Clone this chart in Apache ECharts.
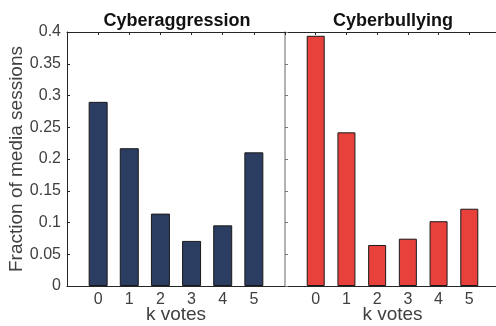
<!DOCTYPE html>
<html><head><meta charset="utf-8">
<script src="https://cdn.jsdelivr.net/npm/echarts@6/dist/echarts.min.js"></script>
<style>html,body{margin:0;padding:0;background:#fff}#c{width:496px;height:326px}</style>
</head><body><div id="c"></div>
<script>
const kVotes = [0, 1, 2, 3, 4, 5];
const aggression = [0.290, 0.217, 0.114, 0.071, 0.0955, 0.2105];
const bullying = [0.394, 0.242, 0.0646, 0.0745, 0.102, 0.1217];
const yTicks = [0, 0.05, 0.1, 0.15, 0.2, 0.25, 0.3, 0.35, 0.4];
const titles = ['Cyberaggression', 'Cyberbullying'];

const font = 'Liberation Sans, Arial, Helvetica, sans-serif';
const chart = echarts.init(document.getElementById('c'), null, {renderer: 'canvas'});
const labelColor = '#404040';
const dark = '#262626';

function xAxes(gi) {
  return [
    {gridIndex: gi, type: 'value', min: -1, max: 6, interval: 1, position: 'bottom',
     axisLine: {show: true, onZero: false, lineStyle: {color: dark, width: 1}},
     axisTick: {show: false},
     axisLabel: {fontFamily: font, fontSize: 16, color: labelColor, margin: 6,
       formatter: v => (v >= 0 && v <= 5) ? String(v) : ''},
     splitLine: {show: false},
     name: 'k votes', nameLocation: 'middle', nameGap: 19, nameMoveOverlap: false,
     nameTextStyle: {fontFamily: font, fontSize: 19, color: labelColor, verticalAlign: 'top'}},
    {gridIndex: gi, type: 'value', min: -1, max: 6, interval: 1, position: 'top',
     axisLine: {show: true, onZero: false, lineStyle: {color: dark, width: 1}},
     axisTick: {show: true, inside: true, length: 3, lineStyle: {color: dark}},
     axisLabel: {show: false}, splitLine: {show: false}}
  ];
}

const option = {
  animation: false,
  title: [
    {text: titles[0], left: 172, top: 7, textAlign: 'center',
     textStyle: {fontFamily: font, fontSize: 18, fontWeight: 'bold', color: '#111'}},
    {text: titles[1], left: 388, top: 7, textAlign: 'center',
     textStyle: {fontFamily: font, fontSize: 18, fontWeight: 'bold', color: '#111'}}
  ],
  grid: [
    {left: 67, top: 32, width: 218, height: 254, containLabel: false, outerBoundsMode: 'none'},
    {left: 285, top: 32, width: 215, height: 254, containLabel: false, outerBoundsMode: 'none'}
  ],
  xAxis: [...xAxes(0), ...xAxes(1)],
  yAxis: [
    {gridIndex: 0, type: 'value', min: 0, max: 0.4, interval: 0.05, position: 'left',
     axisLine: {show: true, onZero: false, lineStyle: {color: dark, width: 1}},
     axisTick: {show: true, inside: true, length: 3, lineStyle: {color: dark}},
     axisLabel: {fontFamily: font, fontSize: 16, color: labelColor, margin: 6,
       formatter: v => { const t = yTicks.find(x => Math.abs(x - v) < 1e-9); return t === undefined ? '' : String(t); }},
     splitLine: {show: false},
     name: 'Fraction of media sessions', nameLocation: 'middle', nameGap: 41, nameMoveOverlap: false,
     nameTextStyle: {fontFamily: font, fontSize: 19, color: labelColor}},
    {gridIndex: 1, type: 'value', min: 0, max: 0.4, interval: 0.05, position: 'left',
     axisLine: {show: true, onZero: false, lineStyle: {color: '#9a9a9a', width: 1.5}},
     axisTick: {show: true, inside: true, length: 3, lineStyle: {color: '#777'}},
     axisLabel: {show: false}, splitLine: {show: false}}
  ],
  series: [
    {type: 'bar', xAxisIndex: 0, yAxisIndex: 0, barWidth: 19,
     data: kVotes.map((k, i) => [k, aggression[i]]),
     itemStyle: {color: '#2c3d62', borderColor: '#1a1a1a', borderWidth: 1}},
    {type: 'bar', xAxisIndex: 2, yAxisIndex: 1, barWidth: 18,
     data: kVotes.map((k, i) => [k, bullying[i]]),
     itemStyle: {color: '#e8413b', borderColor: '#1a1a1a', borderWidth: 1}}
  ]
};
chart.setOption(option);
</script></body></html>
